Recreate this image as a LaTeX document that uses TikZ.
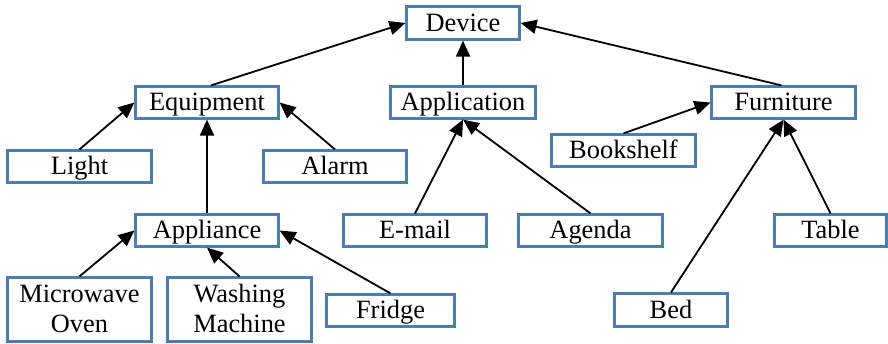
\documentclass[tikz,border=0pt]{standalone}
\usepackage{fontspec}
\setmainfont{Liberation Serif}
\usetikzlibrary{arrows.meta}
\definecolor{boxblue}{RGB}{74,126,178}
\tikzset{
  box/.style={draw=boxblue, line width=2.2pt, fill=white, inner sep=0pt,
    minimum height=32pt, align=center, text height=23pt, text depth=6pt,
    font=\fontsize{26.4pt}{30pt}\selectfont},
  twoline/.style={box, minimum width=144pt, minimum height=64pt, text height=53pt},
  link/.style={line width=1.8pt, -{Triangle[length=16pt,width=14pt]}}
}
\begin{document}
\begin{tikzpicture}[x=1pt,y=-1pt]
\useasboundingbox (0,0) rectangle (888,344);
% top level
\node[box, minimum width=113pt, minimum height=33pt] (device) at (463,23) {Device};
% second level
\node[box, minimum width=143pt] (equip) at (207,102.5) {Equipment};
\node[box, minimum width=145pt] (app) at (463,102.5) {Application};
\node[box, minimum width=144pt] (furn) at (783.5,102.5) {Furniture};
% leaves and sub-categories
\node[box, minimum width=144pt] (light) at (79.5,166.5) {Light};
\node[box, minimum width=143pt] (alarm) at (335,166.5) {Alarm};
\node[box, minimum width=144pt] (shelf) at (623.5,150.5) {Bookshelf};
\node[box, minimum width=143pt] (appl) at (207,230.5) {Appliance};
\node[box, minimum width=143pt] (email) at (415,230.5) {E-mail};
\node[box, minimum width=144pt] (agenda) at (590.5,230.5) {Agenda};
\node[box, minimum width=112pt] (table) at (830.5,230.5) {Table};
\node[twoline] (micro) at (79.5,309.5) {Microwave\\Oven};
\node[twoline] (wash) at (239.5,309.5) {Washing\\Machine};
\node[box, minimum width=128pt] (fridge) at (390.5,310.5) {Fridge};
\node[box, minimum width=113pt, minimum height=33pt] (bed) at (671,310) {Bed};
% connectors
\draw[link] ([xshift=4pt]equip.north) -- (device.west);
\draw[link] (app.north) -- (device.south);
\draw[link] ([xshift=-2pt]furn.north) -- (device.east);
\draw[link] (light.north) -- (equip.west);
\draw[link] (alarm.north) -- (equip.east);
\draw[link] (appl.north) -- (equip.south);
\draw[link] (micro.north) -- (appl.west);
\draw[link] (wash.north) -- (appl.south);
\draw[link] (fridge.north) -- (appl.east);
\draw[link] (email.north) -- (app.south);
\draw[link] (agenda.north) -- (app.south);
\draw[link] (shelf.north) -- (furn.west);
\draw[link] (bed.north) -- (furn.south);
\draw[link] (table.north) -- (furn.south);
\end{tikzpicture}
\end{document}
